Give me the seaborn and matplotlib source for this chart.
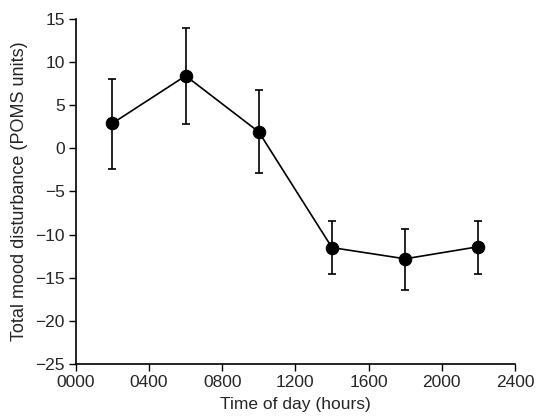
import matplotlib
matplotlib.use("Agg")
import matplotlib.pyplot as plt
import seaborn as sns
import pandas as pd
import numpy as np

# time of day (hours) and total mood disturbance (POMS units)
hours = [200, 600, 1000, 1400, 1800, 2200]
mood = [2.9, 8.4, 1.9, -11.5, -12.8, -11.4]
err_low = [-2.4, 2.8, -2.9, -14.6, -16.4, -14.6]
err_high = [8.0, 13.9, 6.7, -8.4, -9.4, -8.4]

xticks = [0, 400, 800, 1200, 1600, 2000, 2400]
xtick_labels = ["0000", "0400", "0800", "1200", "1600", "2000", "2400"]
yticks = [15, 10, 5, 0, -5, -10, -15, -20, -25]

df = pd.DataFrame({"hours": hours, "mood": mood})

sns.set_style("ticks")
plt.rcParams["font.family"] = ["Liberation Sans", "DejaVu Sans"]

fig = plt.figure(figsize=(5.42, 4.19), dpi=100)
ax = fig.add_axes([0.140, 0.131, 0.810, 0.824])

lo = np.array(mood) - np.array(err_low)
hi = np.array(err_high) - np.array(mood)
ax.errorbar(hours, mood, yerr=[lo, hi], fmt="none", ecolor="black",
            elinewidth=1.2, capsize=3, capthick=1.2)
sns.lineplot(data=df, x="hours", y="mood", ax=ax, color="black",
             linewidth=1.2, marker="o", markersize=9,
             markeredgecolor="black", markerfacecolor="black")

ax.set_xlim(0, 2400)
ax.set_ylim(-25, 15)
ax.set_xticks(xticks)
ax.set_xticklabels(xtick_labels)
ax.set_yticks(yticks)
ax.tick_params(labelsize=12.5, width=1, length=5, color="black", pad=3)
for s in ["left", "bottom"]:
    ax.spines[s].set_linewidth(1.2)
    ax.spines[s].set_color("black")
sns.despine(ax=ax)

ax.set_xlabel("Time of day (hours)", fontsize=12.5, labelpad=5)
ax.set_ylabel("Total mood disturbance (POMS units)", fontsize=13, labelpad=5)

fig.savefig("out.png", dpi=100)
